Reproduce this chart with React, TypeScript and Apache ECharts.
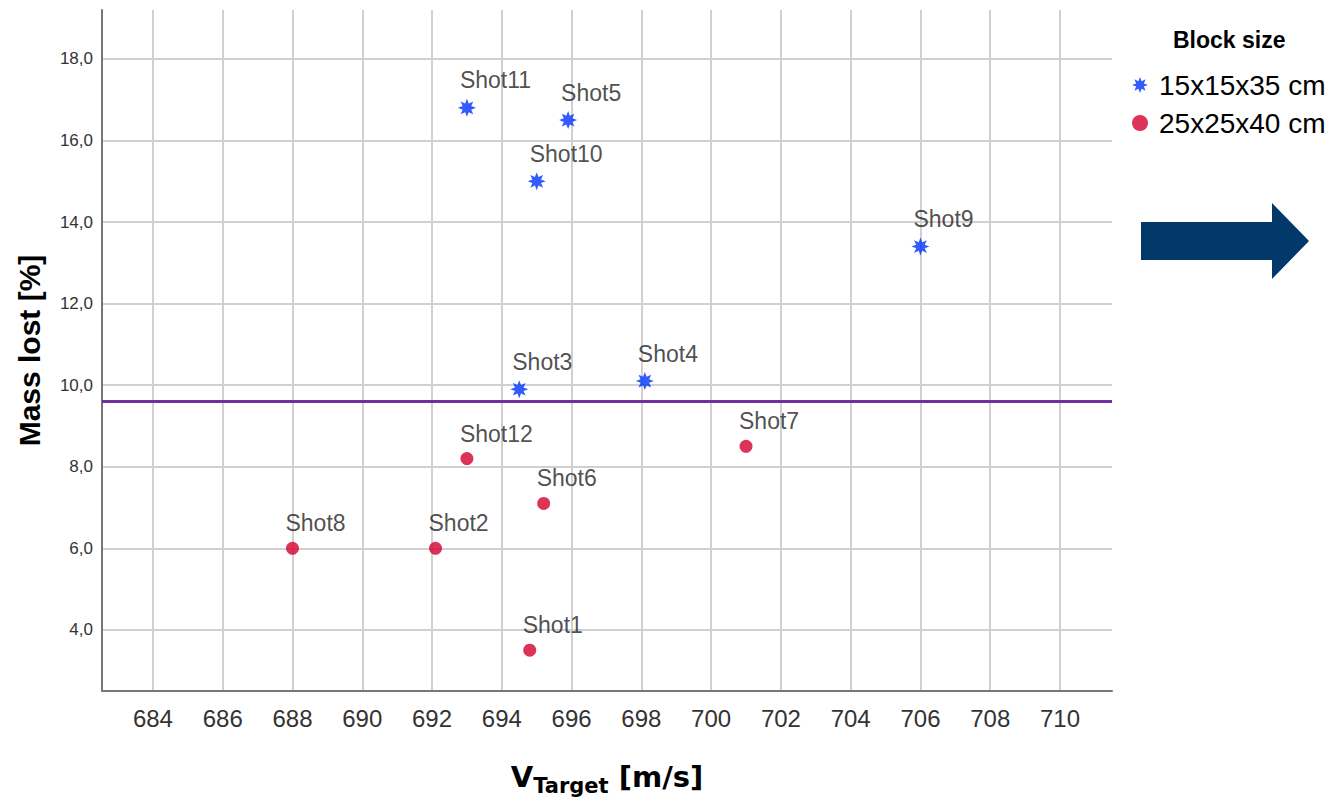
import React, { useEffect, useRef } from 'react';
import * as echarts from 'echarts';

// ---- data ----
const seriesNames = ['15x15x35 cm', '25x25x40 cm'];
const legendTitle = 'Block size';

const smallNames = ['Shot11', 'Shot5', 'Shot10', 'Shot9', 'Shot3', 'Shot4'];
const smallVelocity = [693.0, 695.9, 695.0, 706.0, 694.5, 698.1];
const smallMassLost = [16.8, 16.5, 15.0, 13.4, 9.9, 10.1];

const largeNames = ['Shot12', 'Shot7', 'Shot6', 'Shot8', 'Shot2', 'Shot1'];
const largeVelocity = [693.0, 701.0, 695.2, 688.0, 692.1, 694.8];
const largeMassLost = [8.2, 8.5, 7.1, 6.0, 6.0, 3.5];

const xTicks = [684, 686, 688, 690, 692, 694, 696, 698, 700, 702, 704, 706, 708, 710];
const yTicks = [4, 6, 8, 10, 12, 14, 16, 18];
const referenceMass = 9.6;

const xRange = [682.54, 711.49];
const yRange = [2.5, 19.2];

// ---- symbol shape ----
const starPts: string[] = [];
for (let i = 0; i < 16; i++) {
  const r = i % 2 === 0 ? 10 : 5.2;
  const a = -Math.PI / 2 + (i * Math.PI) / 8;
  starPts.push(`${(r * Math.cos(a)).toFixed(2)} ${(r * Math.sin(a)).toFixed(2)}`);
}
const starSymbol = 'path://M' + starPts.join(' L') + ' Z';

const BLUE = '#0033ff';
const RED = '#d4002e';

const build = (names: string[], xs: number[], ys: number[]) =>
  names.map((n, i) => ({ name: n, value: [xs[i], ys[i]] }));

export default function App() {
  const ref = useRef<HTMLDivElement>(null);
  useEffect(() => {
    if (!ref.current) return;
    const chart = echarts.init(ref.current, null, { renderer: 'svg' });
    const labelCfg = {
      show: true,
      formatter: '{b}',
      position: 'top' as const,
      distance: 7,
      align: 'left' as const,
      offset: [-7, 0],
      fontFamily: 'Liberation Sans, Arial, sans-serif',
      fontSize: 23,
      color: '#222',
    };
    chart.setOption({
      animation: false,
      backgroundColor: '#fff',
      title: {
        text: legendTitle,
        left: 1168,
        top: 23,
        textStyle: { fontFamily: 'Liberation Sans, Arial, sans-serif', fontWeight: 'bold', fontSize: 23, color: '#000' },
      },
      legend: {
        orient: 'vertical',
        left: 1127,
        top: 66,
        itemWidth: 28,
        itemHeight: 16,
        itemGap: 10,
        data: seriesNames,
        textStyle: { fontFamily: 'Liberation Sans, Arial, sans-serif', fontSize: 28, color: '#000' },
      },
      grid: { left: 102, top: 10, right: 221, bottom: 112, containLabel: false, outerBoundsMode: 'none' },
      xAxis: {
        type: 'value',
        min: xRange[0],
        max: xRange[1],
        minInterval: 2,
        maxInterval: 2,
        name: '{v|V}{sub|Target}{v| [m/s]}',
        nameLocation: 'middle',
        nameGap: 66,
        nameTextStyle: {
          rich: {
            v: { fontFamily: 'DejaVu Sans, sans-serif', fontWeight: 'bold', fontSize: 29, color: '#000', lineHeight: 40 },
            sub: { fontFamily: 'DejaVu Sans, sans-serif', fontWeight: 'bold', fontSize: 21, color: '#000', lineHeight: 22, padding: [18, 0, 0, 0] },
          },
        },
        axisLine: { show: true, lineStyle: { color: '#777', width: 2 } },
        axisTick: { show: false },
        axisLabel: {
          margin: 15,
          fontFamily: 'Liberation Sans, Arial, sans-serif',
          fontSize: 24,
          color: '#333',
          showMinLabel: false,
          showMaxLabel: false,
          formatter: (v: number) => (xTicks.includes(Math.round(v * 100) / 100) ? String(v) : ''),
        },
        splitLine: { show: true, showMinLine: false, showMaxLine: false, lineStyle: { color: '#d0d0d0', width: 2 } },
      },
      yAxis: {
        type: 'value',
        min: yRange[0],
        max: yRange[1],
        minInterval: 2,
        maxInterval: 2,
        name: 'Mass lost [%]',
        nameLocation: 'middle',
        nameRotate: 90,
        nameGap: 58,
        nameTextStyle: { fontFamily: 'Liberation Sans, Arial, sans-serif', fontWeight: 'bold', fontSize: 30, color: '#000' },
        axisLine: { show: true, lineStyle: { color: '#777', width: 2 } },
        axisTick: { show: false },
        axisLabel: {
          margin: 9,
          fontFamily: 'Liberation Sans, Arial, sans-serif',
          fontSize: 17,
          color: '#333',
          showMinLabel: false,
          showMaxLabel: false,
          formatter: (v: number) =>
            yTicks.includes(Math.round(v * 100) / 100) ? v.toFixed(1).replace('.', ',') : '',
        },
        splitLine: { show: true, showMinLine: false, showMaxLine: false, lineStyle: { color: '#d0d0d0', width: 2 } },
      },
      series: [
        {
          name: seriesNames[0],
          type: 'scatter',
          symbol: starSymbol,
          symbolSize: 18,
          itemStyle: { color: BLUE },
          label: labelCfg,
          data: build(smallNames, smallVelocity, smallMassLost),
          markLine: {
            silent: true,
            symbol: ['none', 'none'],
            label: { show: false },
            lineStyle: { color: '#7030a0', width: 3, type: 'solid' },
            data: [{ yAxis: referenceMass }],
          },
          z: 3,
        },
        {
          name: seriesNames[1],
          type: 'scatter',
          symbol: 'circle',
          symbolSize: 13,
          itemStyle: { color: RED },
          label: labelCfg,
          data: build(largeNames, largeVelocity, largeMassLost),
          z: 3,
        },
      ],
      graphic: [
        {
          type: 'polygon',
          shape: {
            points: [
              [1141, 222],
              [1272, 222],
              [1272, 203],
              [1309, 241],
              [1272, 279],
              [1272, 260],
              [1141, 260],
            ],
          },
          style: { fill: '#02386a' },
        },
      ],
    });
    return () => chart.dispose();
  }, []);
  return <div ref={ref} style={{ position: 'fixed', left: 0, top: 0, width: 1333, height: 803 }} />;
}
